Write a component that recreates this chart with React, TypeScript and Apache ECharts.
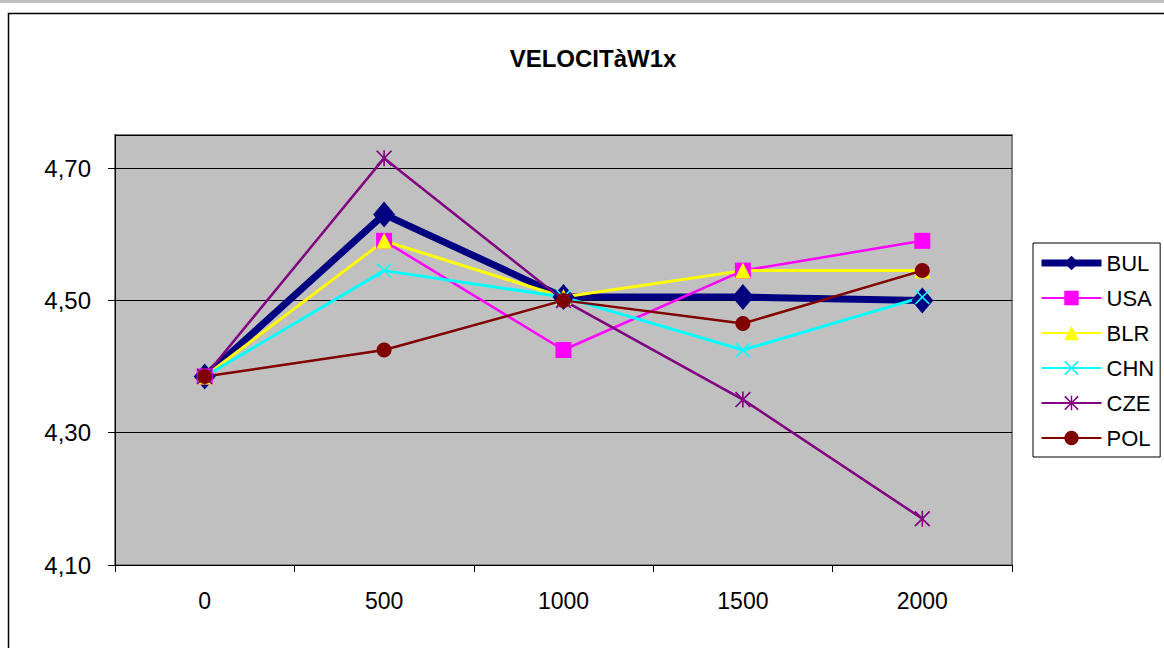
import React, { useEffect, useRef } from "react";
import * as echarts from "echarts";

const categories = ["0", "500", "1000", "1500", "2000"];
const seriesNames = ["BUL", "USA", "BLR", "CHN", "CZE", "POL"];
const bulValues = [4.385, 4.63, 4.505, 4.505, 4.5];
const usaValues = [4.385, 4.59, 4.425, 4.545, 4.59];
const blrValues = [4.385, 4.59, 4.505, 4.545, 4.545];
const chnValues = [4.385, 4.545, 4.505, 4.425, 4.505];
const czeValues = [4.385, 4.715, 4.5, 4.35, 4.17];
const polValues = [4.385, 4.425, 4.5, 4.465, 4.545];
const yTicks = { min: 4.1, max: 4.75, interval: 0.2 };

const X_PATH =
  "path://M1.5,0 L10,8.5 L18.5,0 L20,1.5 L11.5,10 L20,18.5 L18.5,20 L10,11.5 L1.5,20 L0,18.5 L8.5,10 L0,1.5 Z";
const STAR_PATH =
  "path://M1.5,0 L10,8.5 L18.5,0 L20,1.5 L11.5,10 L20,18.5 L18.5,20 L10,11.5 L1.5,20 L0,18.5 L8.5,10 L0,1.5 Z M9,0 L11,0 L11,20 L9,20 Z";

const FONT = "'Liberation Sans', Arial, sans-serif";

export default function App() {
  const ref = useRef<HTMLDivElement>(null);
  useEffect(() => {
    if (!ref.current) return;
    const chart = echarts.init(ref.current, null, { renderer: "svg" });
    const mk = (
      name: string,
      data: number[],
      color: string,
      width: number,
      symbol: string,
      size: number | number[]
    ) => ({
      name,
      type: "line",
      data,
      symbol,
      symbolSize: size,
      showSymbol: true,
      lineStyle: { color, width },
      itemStyle: { color, borderWidth: 0 },
      emphasis: { disabled: true },
    });
    chart.setOption({
      animation: false,
      textStyle: { fontFamily: FONT },
      graphic: [
        { type: "rect", shape: { x: 0, y: 0, width: 1164, height: 3 }, style: { fill: "#c0c0c0" }, silent: true },
        {
          type: "rect",
          shape: { x: 8.5, y: 13.5, width: 1200, height: 700 },
          style: { fill: "none", stroke: "#000", lineWidth: 1.5 },
          silent: true,
        },
        {
          type: "text",
          x: 593,
          y: 58,
          style: {
            text: "VELOCITàW1x",
            fontFamily: FONT,
            fontWeight: "bold",
            fontSize: 24,
            fill: "#000",
            textAlign: "center",
            textVerticalAlign: "middle",
          },
        },
      ],
      grid: {
        left: 115,
        right: 152,
        top: 135,
        bottom: 83,
        show: true,
        backgroundColor: "#c0c0c0",
        borderColor: "#808080",
        borderWidth: 2,
      },
      legend: {
        orient: "vertical",
        left: 1033,
        top: 243,
        data: seriesNames.map((n, i) => (i === 0 ? { name: n, lineStyle: { width: 7 } } : { name: n })),
        itemWidth: 60,
        itemHeight: 18,
        itemGap: 13,
        padding: [9, 6, 8, 5],
        backgroundColor: "#fff",
        borderColor: "#000",
        borderWidth: 1,
        borderRadius: 0,
        textStyle: { fontFamily: FONT, fontSize: 22, color: "#000", padding: [0, 0, 0, 0] },
        selectedMode: false,
      },
      xAxis: {
        type: "category",
        data: categories,
        boundaryGap: true,
        axisLine: { show: true, lineStyle: { color: "#000", width: 1 } },
        axisTick: { show: true, length: 7, lineStyle: { color: "#000" } },
        axisLabel: { fontFamily: FONT, fontSize: 23, color: "#000", margin: 24 },
        splitLine: { show: false },
      },
      yAxis: {
        type: "value",
        min: yTicks.min,
        max: yTicks.max,
        interval: yTicks.interval,
        axisLine: { show: true, lineStyle: { color: "#000", width: 1 } },
        axisTick: { show: true, length: 7, lineStyle: { color: "#000" } },
        axisLabel: {
          fontFamily: FONT,
          fontSize: 24,
          color: "#000",
          margin: 24,
          showMaxLabel: false,
          formatter: (v: number) => v.toFixed(2).replace(".", ","),
        },
        splitLine: { show: true, lineStyle: { color: "#000", width: 1 } },
      },
      series: [
        mk("BUL", bulValues, "#000080", 7, "diamond", [22, 26]),
        mk("USA", usaValues, "#ff00ff", 2.5, "rect", 16),
        mk("BLR", blrValues, "#ffff00", 3, "triangle", 16),
        mk("CHN", chnValues, "#00ffff", 3, X_PATH, 15),
        mk("CZE", czeValues, "#800080", 2.5, STAR_PATH, 16),
        mk("POL", polValues, "#800000", 2.5, "circle", 15),
      ],
    });
    return () => chart.dispose();
  }, []);
  return (
    <div
      ref={ref}
      style={{ position: "fixed", left: 0, top: 0, width: 1164, height: 648, background: "#fff" }}
    />
  );
}
